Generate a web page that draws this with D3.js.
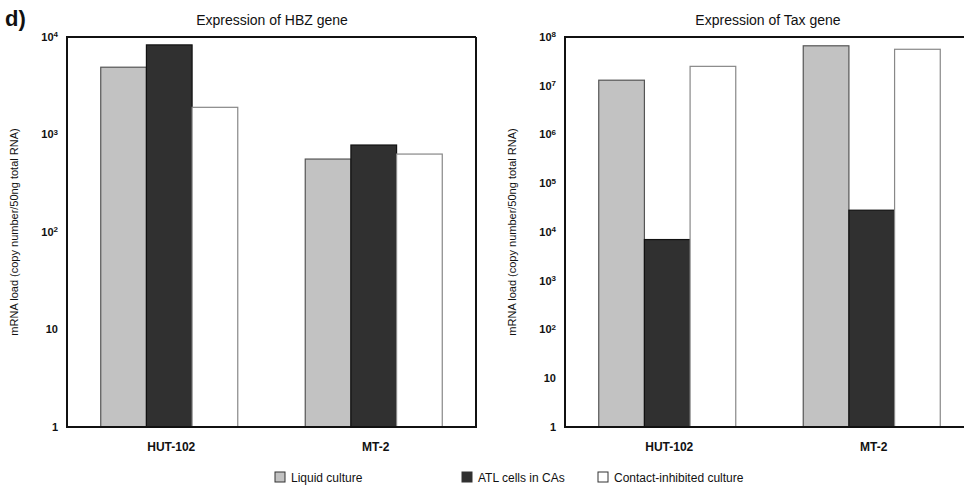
<!DOCTYPE html>
<html>
<head>
<meta charset="utf-8">
<script src="https://cdn.jsdelivr.net/npm/d3@7"></script>
<style>
  body { margin: 0; background: #fff; }
  svg text { font-family: "Liberation Sans", Arial, sans-serif; fill: #111; }
</style>
</head>
<body>
<svg id="chart" width="964" height="489"></svg>
<script>
// data
var cells = ["HUT-102", "MT-2"];
var series = ["Liquid culture", "ATL cells in CAs", "Contact-inhibited culture"];
var hbzValues = [[4900, 8300, 1900], [560, 780, 630]];
var taxValues = [[13000000, 7000, 25000000], [66000000, 28000, 56000000]];
var hbzTicks = [1, 10, 100, 1000, 10000];
var taxTicks = [1, 10, 1e2, 1e3, 1e4, 1e5, 1e6, 1e7, 1e8];
var yLabel = "mRNA load (copy number/50ng total RNA)";

var fills = ["#c2c2c2", "#303030", "#ffffff"];
var strokes = ["#555", "#111", "#888"];

var svg = d3.select("#chart");

function tickText(g, d) {
    var e = Math.round(Math.log10(d));
    var t = g.append("text")
        .attr("text-anchor", "end")
        .attr("dy", "0.35em")
        .style("font-size", "11px")
        .style("font-weight", "bold");
    if (e < 2) { t.text(d); return; }
    t.append("tspan").text("10");
    t.append("tspan").attr("dy", "-0.45em").style("font-size", "8px").text(e);
}

function drawPanel(opt) {
    var g = svg.append("g");
    var x = d3.scaleBand().domain(cells).range([opt.left, opt.right]).paddingInner(0.33).paddingOuter(0.165);
    var xs = d3.scaleBand().domain(d3.range(series.length)).range([0, x.bandwidth()]);
    var y = d3.scaleLog().domain(opt.domain).range([427, 37]);

    // bars
    cells.forEach(function(c, ci) {
        opt.values[ci].forEach(function(v, si) {
            g.append("rect")
                .attr("x", x(c) + xs(si))
                .attr("y", y(v))
                .attr("width", xs.bandwidth())
                .attr("height", y(opt.domain[0]) - y(v))
                .attr("fill", fills[si])
                .attr("stroke", strokes[si])
                .attr("stroke-width", 1.2);
        });
    });

    // frame
    g.append("path")
        .attr("d", "M" + opt.frameRight + "," + y(opt.domain[1]) + "H" + opt.left + "V" + y(opt.domain[0]) + "H" + opt.frameRight +
            (opt.closeRight ? "V" + y(opt.domain[1]) : ""))
        .attr("fill", "none")
        .attr("stroke", "#111")
        .attr("stroke-width", 2);

    // y ticks
    opt.ticks.forEach(function(t) {
        var tg = g.append("g").attr("transform", "translate(" + (opt.left - 9) + "," + y(t) + ")");
        tickText(tg, t);
    });

    // category labels
    cells.forEach(function(c) {
        g.append("text")
            .attr("x", x(c) + x.bandwidth() / 2 + 2)
            .attr("y", 451)
            .attr("text-anchor", "middle")
            .style("font-size", "12px")
            .style("font-weight", "bold")
            .text(c);
    });

    g.append("text")
        .attr("x", opt.titleX)
        .attr("y", 25)
        .attr("text-anchor", "middle")
        .style("font-size", "14px")
        .text(opt.title);

    g.append("text")
        .attr("transform", "translate(" + opt.labelX + ",232) rotate(-90)")
        .attr("text-anchor", "middle")
        .style("font-size", "11px")
        .text(yLabel);
}

drawPanel({left: 67, right: 476, frameRight: 476, closeRight: true, domain: [1, 10000],
    values: hbzValues, ticks: hbzTicks, title: "Expression of HBZ gene", titleX: 272, labelX: 18});
drawPanel({left: 565, right: 974, frameRight: 964, closeRight: false, domain: [1, 1e8],
    values: taxValues, ticks: taxTicks, title: "Expression of Tax gene", titleX: 768, labelX: 516});

svg.append("text")
    .attr("x", 5)
    .attr("y", 26)
    .style("font-size", "22px")
    .style("font-weight", "bold")
    .text("d)");

// legend
var legendX = [275, 462, 598];
series.forEach(function(s, i) {
    var lg = svg.append("g").attr("transform", "translate(" + legendX[i] + ",472)");
    lg.append("rect").attr("width", 10).attr("height", 10)
        .attr("fill", fills[i]).attr("stroke", "#333").attr("stroke-width", 1);
    lg.append("text").attr("x", 16).attr("y", 10)
        .style("font-size", "12px")
        .text(s);
});
</script>
</body>
</html>
